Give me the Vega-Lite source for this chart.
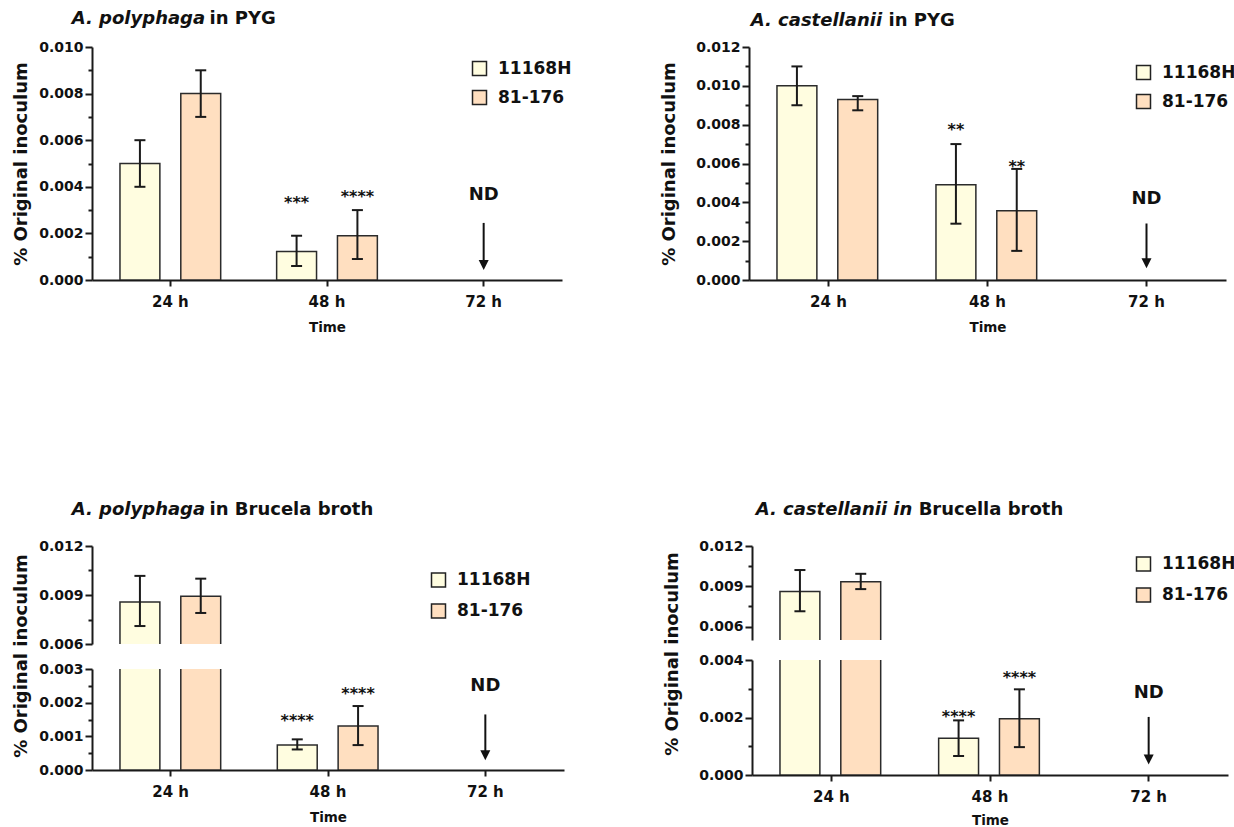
{
  "$schema": "https://vega.github.io/schema/vega-lite/v6.json",
  "background": "white",
  "padding": {"left": 12, "top": 9, "right": 0, "bottom": 0},
  "datasets": {
    "bars": [
      {"panel": "p1", "time": "24 h", "strain": "11168H", "value": 0.005, "lo": 0.004, "hi": 0.006},
      {"panel": "p1", "time": "24 h", "strain": "81-176", "value": 0.008, "lo": 0.007, "hi": 0.009},
      {"panel": "p1", "time": "48 h", "strain": "11168H", "value": 0.00122, "lo": 0.0006, "hi": 0.0019},
      {"panel": "p1", "time": "48 h", "strain": "81-176", "value": 0.0019, "lo": 0.0009, "hi": 0.003},
      {"panel": "p2", "time": "24 h", "strain": "11168H", "value": 0.01, "lo": 0.009, "hi": 0.011},
      {"panel": "p2", "time": "24 h", "strain": "81-176", "value": 0.0093, "lo": 0.00874, "hi": 0.00947},
      {"panel": "p2", "time": "48 h", "strain": "11168H", "value": 0.0049, "lo": 0.0029, "hi": 0.007},
      {"panel": "p2", "time": "48 h", "strain": "81-176", "value": 0.00357, "lo": 0.0015, "hi": 0.00572},
      {"panel": "p3", "time": "24 h", "strain": "11168H", "value": 0.00857, "lo": 0.0071, "hi": 0.01017},
      {"panel": "p3", "time": "24 h", "strain": "81-176", "value": 0.00892, "lo": 0.0079, "hi": 0.01},
      {"panel": "p3", "time": "48 h", "strain": "11168H", "value": 0.00074, "lo": 0.00061, "hi": 0.00091},
      {"panel": "p3", "time": "48 h", "strain": "81-176", "value": 0.00131, "lo": 0.00074, "hi": 0.0019},
      {"panel": "p4", "time": "24 h", "strain": "11168H", "value": 0.00862, "lo": 0.00714, "hi": 0.01021},
      {"panel": "p4", "time": "24 h", "strain": "81-176", "value": 0.00934, "lo": 0.00879, "hi": 0.00993},
      {"panel": "p4", "time": "48 h", "strain": "11168H", "value": 0.00128, "lo": 0.00066, "hi": 0.0019},
      {"panel": "p4", "time": "48 h", "strain": "81-176", "value": 0.00196, "lo": 0.00097, "hi": 0.00298}
    ],
    "stars": [
      {"panel": "p1", "time": "48 h", "strain": "11168H", "y": 0.0031, "label": "***"},
      {"panel": "p1", "time": "48 h", "strain": "81-176", "y": 0.00336, "label": "****"},
      {"panel": "p2", "time": "48 h", "strain": "11168H", "y": 0.00745, "label": "**"},
      {"panel": "p2", "time": "48 h", "strain": "81-176", "y": 0.00556, "label": "**"},
      {"panel": "p3", "time": "48 h", "strain": "11168H", "y": 0.00131, "label": "****"},
      {"panel": "p3", "time": "48 h", "strain": "81-176", "y": 0.00211, "label": "****"},
      {"panel": "p4", "time": "48 h", "strain": "11168H", "y": 0.00183, "label": "****"},
      {"panel": "p4", "time": "48 h", "strain": "81-176", "y": 0.00319, "label": "****"}
    ],
    "nd": [
      {"panel": "p1", "time": "72 h", "label": "ND", "ty": 0.00345, "top": 0.00245, "head": 0.00064},
      {"panel": "p2", "time": "72 h", "label": "ND", "ty": 0.00392, "top": 0.00291, "head": 0.00086},
      {"panel": "p3", "time": "72 h", "label": "ND", "ty": 0.00235, "top": 0.00165, "head": 0.00044},
      {"panel": "p4", "time": "72 h", "label": "ND", "ty": 0.00269, "top": 0.00202, "head": 0.00054}
    ]
  },
  "config": {
    "font": "DejaVu Sans",
    "view": {"stroke": null},
    "axis": {"domainColor": "#1a1a1a", "domainWidth": 2, "tickColor": "#1a1a1a", "tickWidth": 2, "labelColor": "#111111", "titleColor": "#111111", "labelFont": "DejaVu Sans", "titleFont": "DejaVu Sans", "labelFontWeight": "bold", "titleFontWeight": "bold", "grid": false},
    "axisY": {"labelFontSize": 14, "titleFontSize": 18, "labelPadding": 2, "tickSize": 7, "labelOverlap": false, "tickCount": 50},
    "axisX": {"labelFontSize": 15, "titleFontSize": 13.5, "labelAngle": 0, "tickSize": 6, "labelPadding": 8, "titlePadding": 11},
    "legend": {"orient": "none", "symbolType": "square", "symbolSize": 196, "symbolStrokeColor": "#222222", "symbolStrokeWidth": 1.5, "labelFont": "DejaVu Sans", "labelFontSize": 17, "labelFontWeight": "bold", "labelColor": "#111111", "rowPadding": 8, "labelOffset": 10, "padding": 0},
    "title": {"font": "DejaVu Sans", "fontSize": 18, "fontWeight": "bold", "fontStyle": "italic", "color": "#111111", "subtitleFont": "DejaVu Sans", "subtitleFontSize": 18, "subtitleFontWeight": "bold", "subtitleFontStyle": "normal", "subtitleColor": "#111111", "anchor": "start", "frame": "bounds", "lineHeight": 18, "subtitleLineHeight": 18, "subtitlePadding": -18}
  },
  "resolve": {"scale": {"x": "independent", "y": "independent", "color": "independent"}, "legend": {"color": "independent"}},
  "spacing": 166,
  "vconcat": [
    {
      "spacing": 88,
      "align": "none",
      "resolve": {"scale": {"x": "independent", "y": "independent", "color": "independent"}, "legend": {"color": "independent"}},
      "hconcat": [
        {
          "title": {"text": "A. polyphaga", "subtitle": "\u200b\u00a0\u00a0\u00a0\u00a0\u00a0\u00a0\u00a0\u00a0\u00a0\u00a0\u00a0\u00a0\u00a0\u00a0\u00a0\u00a0\u00a0\u00a0\u00a0\u00a0\u00a0\u00a0in PYG", "dx": 59, "offset": 12.5},
          "width": 470, "height": 233,
          "layer": [
            {"data": {"name": "bars"}, "transform": [{"filter": "datum.panel == 'p1'"}],
             "mark": {"type": "bar", "stroke": "#2b2b2b", "strokeWidth": 1.5, "clip": true},
             "encoding": {
               "x": {"field": "time", "type": "nominal", "title": "Time", "scale": {"domain": ["24 h", "48 h", "72 h"], "paddingInner": 0, "paddingOuter": 0}},
               "xOffset": {"field": "strain", "type": "nominal", "scale": {"domain": ["11168H", "81-176"], "paddingInner": 0.344, "paddingOuter": 0.46}},
               "y": {"field": "value", "type": "quantitative", "title": "% Original inoculum", "scale": {"domain": [0, 0.01], "nice": false, "zero": false},
                     "axis": {"titlePadding": 8, "labelOverlap": false, "tickCount": 50, "values": [0, 0.001, 0.002, 0.003, 0.004, 0.005, 0.006, 0.007, 0.008, 0.009, 0.01], "labelExpr": "round(datum.value*1000) % 2 == 0 ? format(datum.value, '.3f') : ''", "labelFontSize": {"condition": {"test": "round(datum.value*1000) % 2 == 0", "value": 14}, "value": 0}, "tickSize": {"condition": {"test": "round(datum.value*1000) % 2 == 0", "value": 7}, "value": 4}}},
               "color": {"field": "strain", "type": "nominal", "scale": {"domain": ["11168H", "81-176"], "range": ["#FFFDE0", "#FFDFC0"]}, "legend": {"title": null, "legendX": 379, "legendY": 13}}
             }},
            {"data": {"name": "bars"}, "transform": [{"filter": "datum.panel == 'p1'"}],
             "mark": {"type": "rule", "strokeWidth": 2, "color": "#1a1a1a", "clip": true},
             "encoding": {"x": {"field": "time", "type": "nominal", "title": "Time"}, "xOffset": {"field": "strain", "type": "nominal"}, "y": {"field": "lo", "type": "quantitative", "title": "% Original inoculum", "axis": {"labelOverlap": false, "tickCount": 50}}, "y2": {"field": "hi"}}},
            {"data": {"name": "bars"}, "transform": [{"filter": "datum.panel == 'p1'"}],
             "mark": {"type": "tick", "size": 11, "thickness": 2, "color": "#1a1a1a", "opacity": 1, "clip": true},
             "encoding": {"x": {"field": "time", "type": "nominal", "title": "Time"}, "xOffset": {"field": "strain", "type": "nominal"}, "y": {"field": "lo", "type": "quantitative", "title": "% Original inoculum", "axis": {"labelOverlap": false, "tickCount": 50}}}},
            {"data": {"name": "bars"}, "transform": [{"filter": "datum.panel == 'p1'"}],
             "mark": {"type": "tick", "size": 11, "thickness": 2, "color": "#1a1a1a", "opacity": 1, "clip": true},
             "encoding": {"x": {"field": "time", "type": "nominal", "title": "Time"}, "xOffset": {"field": "strain", "type": "nominal"}, "y": {"field": "hi", "type": "quantitative", "title": "% Original inoculum", "axis": {"labelOverlap": false, "tickCount": 50}}}},
            {"data": {"name": "stars"}, "transform": [{"filter": "datum.panel == 'p1'"}],
             "mark": {"type": "text", "fontSize": 16, "fontWeight": "bold", "baseline": "alphabetic", "color": "#111111"},
             "encoding": {"x": {"field": "time", "type": "nominal", "title": "Time"}, "xOffset": {"field": "strain", "type": "nominal"}, "y": {"field": "y", "type": "quantitative", "title": "% Original inoculum", "axis": {"labelOverlap": false, "tickCount": 50}}, "text": {"field": "label"}}},
            {"data": {"name": "nd"}, "transform": [{"filter": "datum.panel == 'p1'"}],
             "mark": {"type": "text", "fontSize": 18, "fontWeight": "bold", "baseline": "alphabetic", "color": "#111111"},
             "encoding": {"x": {"field": "time", "type": "nominal", "title": "Time"}, "y": {"field": "ty", "type": "quantitative", "title": "% Original inoculum", "axis": {"labelOverlap": false, "tickCount": 50}}, "text": {"field": "label"}}},
            {"data": {"name": "nd"}, "transform": [{"filter": "datum.panel == 'p1'"}],
             "mark": {"type": "rule", "strokeWidth": 2, "color": "#111111"},
             "encoding": {"x": {"field": "time", "type": "nominal", "title": "Time"}, "y": {"field": "top", "type": "quantitative", "title": "% Original inoculum", "axis": {"labelOverlap": false, "tickCount": 50}}, "y2": {"field": "head"}}},
            {"data": {"name": "nd"}, "transform": [{"filter": "datum.panel == 'p1'"}],
             "mark": {"type": "point", "shape": "M-1,-1L1,-1L0,1Z", "size": 100, "filled": true, "opacity": 1, "color": "#111111"},
             "encoding": {"x": {"field": "time", "type": "nominal", "title": "Time"}, "y": {"field": "head", "type": "quantitative", "title": "% Original inoculum", "axis": {"labelOverlap": false, "tickCount": 50}}}}
          ]
        },
        {
          "title": {"text": "A. castellanii", "subtitle": "\u200b\u00a0\u00a0\u00a0\u00a0\u00a0\u00a0\u00a0\u00a0\u00a0\u00a0\u00a0\u00a0\u00a0\u00a0\u00a0\u00a0\u00a0\u00a0\u00a0\u00a0\u00a0\u00a0in PYG", "dx": 90, "offset": 10},
          "width": 477, "height": 233,
          "layer": [
            {"data": {"name": "bars"}, "transform": [{"filter": "datum.panel == 'p2'"}],
             "mark": {"type": "bar", "stroke": "#2b2b2b", "strokeWidth": 1.5, "clip": true},
             "encoding": {
               "x": {"field": "time", "type": "nominal", "title": "Time", "scale": {"domain": ["24 h", "48 h", "72 h"], "paddingInner": 0, "paddingOuter": 0}},
               "xOffset": {"field": "strain", "type": "nominal", "scale": {"domain": ["11168H", "81-176"], "paddingInner": 0.344, "paddingOuter": 0.46}},
               "y": {"field": "value", "type": "quantitative", "title": "% Original inoculum", "scale": {"domain": [0, 0.012], "nice": false, "zero": false},
                     "axis": {"titlePadding": 17, "labelOverlap": false, "tickCount": 50, "values": [0, 0.001, 0.002, 0.003, 0.004, 0.005, 0.006, 0.007, 0.008, 0.009, 0.01, 0.011, 0.012], "labelExpr": "round(datum.value*1000) % 2 == 0 ? format(datum.value, '.3f') : ''", "labelFontSize": {"condition": {"test": "round(datum.value*1000) % 2 == 0", "value": 14}, "value": 0}, "tickSize": {"condition": {"test": "round(datum.value*1000) % 2 == 0", "value": 7}, "value": 4}}},
               "color": {"field": "strain", "type": "nominal", "scale": {"domain": ["11168H", "81-176"], "range": ["#FFFDE0", "#FFDFC0"]}, "legend": {"title": null, "legendX": 386, "legendY": 17}}
             }},
            {"data": {"name": "bars"}, "transform": [{"filter": "datum.panel == 'p2'"}],
             "mark": {"type": "rule", "strokeWidth": 2, "color": "#1a1a1a", "clip": true},
             "encoding": {"x": {"field": "time", "type": "nominal", "title": "Time"}, "xOffset": {"field": "strain", "type": "nominal"}, "y": {"field": "lo", "type": "quantitative", "title": "% Original inoculum", "axis": {"labelOverlap": false, "tickCount": 50}}, "y2": {"field": "hi"}}},
            {"data": {"name": "bars"}, "transform": [{"filter": "datum.panel == 'p2'"}],
             "mark": {"type": "tick", "size": 11, "thickness": 2, "color": "#1a1a1a", "opacity": 1, "clip": true},
             "encoding": {"x": {"field": "time", "type": "nominal", "title": "Time"}, "xOffset": {"field": "strain", "type": "nominal"}, "y": {"field": "lo", "type": "quantitative", "title": "% Original inoculum", "axis": {"labelOverlap": false, "tickCount": 50}}}},
            {"data": {"name": "bars"}, "transform": [{"filter": "datum.panel == 'p2'"}],
             "mark": {"type": "tick", "size": 11, "thickness": 2, "color": "#1a1a1a", "opacity": 1, "clip": true},
             "encoding": {"x": {"field": "time", "type": "nominal", "title": "Time"}, "xOffset": {"field": "strain", "type": "nominal"}, "y": {"field": "hi", "type": "quantitative", "title": "% Original inoculum", "axis": {"labelOverlap": false, "tickCount": 50}}}},
            {"data": {"name": "stars"}, "transform": [{"filter": "datum.panel == 'p2'"}],
             "mark": {"type": "text", "fontSize": 16, "fontWeight": "bold", "baseline": "alphabetic", "color": "#111111"},
             "encoding": {"x": {"field": "time", "type": "nominal", "title": "Time"}, "xOffset": {"field": "strain", "type": "nominal"}, "y": {"field": "y", "type": "quantitative", "title": "% Original inoculum", "axis": {"labelOverlap": false, "tickCount": 50}}, "text": {"field": "label"}}},
            {"data": {"name": "nd"}, "transform": [{"filter": "datum.panel == 'p2'"}],
             "mark": {"type": "text", "fontSize": 18, "fontWeight": "bold", "baseline": "alphabetic", "color": "#111111"},
             "encoding": {"x": {"field": "time", "type": "nominal", "title": "Time"}, "y": {"field": "ty", "type": "quantitative", "title": "% Original inoculum", "axis": {"labelOverlap": false, "tickCount": 50}}, "text": {"field": "label"}}},
            {"data": {"name": "nd"}, "transform": [{"filter": "datum.panel == 'p2'"}],
             "mark": {"type": "rule", "strokeWidth": 2, "color": "#111111"},
             "encoding": {"x": {"field": "time", "type": "nominal", "title": "Time"}, "y": {"field": "top", "type": "quantitative", "title": "% Original inoculum", "axis": {"labelOverlap": false, "tickCount": 50}}, "y2": {"field": "head"}}},
            {"data": {"name": "nd"}, "transform": [{"filter": "datum.panel == 'p2'"}],
             "mark": {"type": "point", "shape": "M-1,-1L1,-1L0,1Z", "size": 100, "filled": true, "opacity": 1, "color": "#111111"},
             "encoding": {"x": {"field": "time", "type": "nominal", "title": "Time"}, "y": {"field": "head", "type": "quantitative", "title": "% Original inoculum", "axis": {"labelOverlap": false, "tickCount": 50}}}}
          ]
        }
      ]
    },
    {
      "spacing": 99,
      "align": "none",
      "resolve": {"scale": {"x": "independent", "y": "independent", "color": "independent"}, "legend": {"color": "independent"}},
      "hconcat": [
        {
          "title": {"text": "A. polyphaga", "subtitle": "\u200b\u00a0\u00a0\u00a0\u00a0\u00a0\u00a0\u00a0\u00a0\u00a0\u00a0\u00a0\u00a0\u00a0\u00a0\u00a0\u00a0\u00a0\u00a0\u00a0\u00a0\u00a0\u00a0in Brucela broth", "dx": 59, "offset": 20.5},
          "spacing": 25,
          "bounds": "flush",
          "resolve": {"scale": {"x": "independent", "y": "independent", "color": "independent"}, "legend": {"color": "independent"}},
          "vconcat": [
            {
              "width": 472, "height": 98,
              "layer": [
                {"data": {"name": "bars"}, "transform": [{"filter": "datum.panel == 'p3'"}],
                 "mark": {"type": "bar", "stroke": "#2b2b2b", "strokeWidth": 1.5, "clip": true},
                 "encoding": {
                   "x": {"field": "time", "type": "nominal", "scale": {"domain": ["24 h", "48 h", "72 h"], "paddingInner": 0, "paddingOuter": 0}, "axis": null},
                   "xOffset": {"field": "strain", "type": "nominal", "scale": {"domain": ["11168H", "81-176"], "paddingInner": 0.344, "paddingOuter": 0.46}},
                   "y": {"field": "value", "type": "quantitative", "title": null, "scale": {"domain": [0.006, 0.012], "nice": false, "zero": false},
                         "axis": {"labelOverlap": false, "tickCount": 50, "values": [0.006, 0.0075, 0.009, 0.0105, 0.012], "labelExpr": "round(datum.value*10000) % 30 == 0 ? format(datum.value, '.3f') : ''", "labelFontSize": {"condition": {"test": "round(datum.value*10000) % 30 == 0", "value": 14}, "value": 0}, "tickSize": {"condition": {"test": "round(datum.value*10000) % 30 == 0", "value": 7}, "value": 4}}},
                   "color": {"field": "strain", "type": "nominal", "scale": {"domain": ["11168H", "81-176"], "range": ["#FFFDE0", "#FFDFC0"]}, "legend": {"title": null, "legendX": 338, "legendY": 25.5, "rowPadding": 10}}
                 }},
                {"data": {"name": "bars"}, "transform": [{"filter": "datum.panel == 'p3'"}],
                 "mark": {"type": "rule", "strokeWidth": 2, "color": "#1a1a1a", "clip": true},
                 "encoding": {"x": {"field": "time", "type": "nominal", "axis": null}, "xOffset": {"field": "strain", "type": "nominal"}, "y": {"field": "lo", "type": "quantitative", "title": null, "axis": {"labelOverlap": false, "tickCount": 50}}, "y2": {"field": "hi"}}},
                {"data": {"name": "bars"}, "transform": [{"filter": "datum.panel == 'p3'"}],
                 "mark": {"type": "tick", "size": 11, "thickness": 2, "color": "#1a1a1a", "opacity": 1, "clip": true},
                 "encoding": {"x": {"field": "time", "type": "nominal", "axis": null}, "xOffset": {"field": "strain", "type": "nominal"}, "y": {"field": "lo", "type": "quantitative", "title": null, "axis": {"labelOverlap": false, "tickCount": 50}}}},
                {"data": {"name": "bars"}, "transform": [{"filter": "datum.panel == 'p3'"}],
                 "mark": {"type": "tick", "size": 11, "thickness": 2, "color": "#1a1a1a", "opacity": 1, "clip": true},
                 "encoding": {"x": {"field": "time", "type": "nominal", "axis": null}, "xOffset": {"field": "strain", "type": "nominal"}, "y": {"field": "hi", "type": "quantitative", "title": null, "axis": {"labelOverlap": false, "tickCount": 50}}}}
              ]
            },
            {
              "width": 472, "height": 101,
              "layer": [
                {"data": {"name": "bars"}, "transform": [{"filter": "datum.panel == 'p3'"}],
                 "mark": {"type": "bar", "stroke": "#2b2b2b", "strokeWidth": 1.5, "clip": true},
                 "encoding": {
                   "x": {"field": "time", "type": "nominal", "title": "Time", "scale": {"domain": ["24 h", "48 h", "72 h"], "paddingInner": 0, "paddingOuter": 0}},
                   "xOffset": {"field": "strain", "type": "nominal", "scale": {"domain": ["11168H", "81-176"], "paddingInner": 0.344, "paddingOuter": 0.46}},
                   "y": {"field": "value", "type": "quantitative", "title": "% Original inoculum", "scale": {"domain": [0, 0.003], "nice": false, "zero": false},
                         "axis": {"titlePadding": 8, "titleY": -13.5, "labelOverlap": false, "tickCount": 50, "values": [0, 0.0005, 0.001, 0.0015, 0.002, 0.0025, 0.003], "labelExpr": "round(datum.value*10000) % 10 == 0 ? format(datum.value, '.3f') : ''", "labelFontSize": {"condition": {"test": "round(datum.value*10000) % 10 == 0", "value": 14}, "value": 0}, "tickSize": {"condition": {"test": "round(datum.value*10000) % 10 == 0", "value": 7}, "value": 4}}},
                   "color": {"field": "strain", "type": "nominal", "scale": {"domain": ["11168H", "81-176"], "range": ["#FFFDE0", "#FFDFC0"]}, "legend": null}
                 }},
                {"data": {"name": "bars"}, "transform": [{"filter": "datum.panel == 'p3'"}],
                 "mark": {"type": "rule", "strokeWidth": 2, "color": "#1a1a1a", "clip": true},
                 "encoding": {"x": {"field": "time", "type": "nominal", "title": "Time"}, "xOffset": {"field": "strain", "type": "nominal"}, "y": {"field": "lo", "type": "quantitative", "title": "% Original inoculum", "axis": {"labelOverlap": false, "tickCount": 50}}, "y2": {"field": "hi"}}},
                {"data": {"name": "bars"}, "transform": [{"filter": "datum.panel == 'p3'"}],
                 "mark": {"type": "tick", "size": 11, "thickness": 2, "color": "#1a1a1a", "opacity": 1, "clip": true},
                 "encoding": {"x": {"field": "time", "type": "nominal", "title": "Time"}, "xOffset": {"field": "strain", "type": "nominal"}, "y": {"field": "lo", "type": "quantitative", "title": "% Original inoculum", "axis": {"labelOverlap": false, "tickCount": 50}}}},
                {"data": {"name": "bars"}, "transform": [{"filter": "datum.panel == 'p3'"}],
                 "mark": {"type": "tick", "size": 11, "thickness": 2, "color": "#1a1a1a", "opacity": 1, "clip": true},
                 "encoding": {"x": {"field": "time", "type": "nominal", "title": "Time"}, "xOffset": {"field": "strain", "type": "nominal"}, "y": {"field": "hi", "type": "quantitative", "title": "% Original inoculum", "axis": {"labelOverlap": false, "tickCount": 50}}}},
                {"data": {"name": "stars"}, "transform": [{"filter": "datum.panel == 'p3'"}],
                 "mark": {"type": "text", "fontSize": 16, "fontWeight": "bold", "baseline": "alphabetic", "color": "#111111"},
                 "encoding": {"x": {"field": "time", "type": "nominal", "title": "Time"}, "xOffset": {"field": "strain", "type": "nominal"}, "y": {"field": "y", "type": "quantitative", "title": "% Original inoculum", "axis": {"labelOverlap": false, "tickCount": 50}}, "text": {"field": "label"}}},
                {"data": {"name": "nd"}, "transform": [{"filter": "datum.panel == 'p3'"}],
                 "mark": {"type": "text", "fontSize": 18, "fontWeight": "bold", "baseline": "alphabetic", "color": "#111111"},
                 "encoding": {"x": {"field": "time", "type": "nominal", "title": "Time"}, "y": {"field": "ty", "type": "quantitative", "title": "% Original inoculum", "axis": {"labelOverlap": false, "tickCount": 50}}, "text": {"field": "label"}}},
                {"data": {"name": "nd"}, "transform": [{"filter": "datum.panel == 'p3'"}],
                 "mark": {"type": "rule", "strokeWidth": 2, "color": "#111111"},
                 "encoding": {"x": {"field": "time", "type": "nominal", "title": "Time"}, "y": {"field": "top", "type": "quantitative", "title": "% Original inoculum", "axis": {"labelOverlap": false, "tickCount": 50}}, "y2": {"field": "head"}}},
                {"data": {"name": "nd"}, "transform": [{"filter": "datum.panel == 'p3'"}],
                 "mark": {"type": "point", "shape": "M-1,-1L1,-1L0,1Z", "size": 100, "filled": true, "opacity": 1, "color": "#111111"},
                 "encoding": {"x": {"field": "time", "type": "nominal", "title": "Time"}, "y": {"field": "head", "type": "quantitative", "title": "% Original inoculum", "axis": {"labelOverlap": false, "tickCount": 50}}}}
              ]
            }
          ]
        },
        {
          "title": {"text": "A. castellanii in", "subtitle": "\u200b\u00a0\u00a0\u00a0\u00a0\u00a0\u00a0\u00a0\u00a0\u00a0\u00a0\u00a0\u00a0\u00a0\u00a0\u00a0\u00a0\u00a0\u00a0\u00a0\u00a0\u00a0\u00a0\u00a0\u00a0\u00a0\u00a0Brucella broth", "dx": 92, "offset": 20.5},
          "spacing": 20,
          "bounds": "flush",
          "resolve": {"scale": {"x": "independent", "y": "independent", "color": "independent"}, "legend": {"color": "independent"}},
          "vconcat": [
            {
              "width": 476, "height": 94,
              "layer": [
                {"data": {"name": "bars"}, "transform": [{"filter": "datum.panel == 'p4'"}],
                 "mark": {"type": "bar", "stroke": "#2b2b2b", "strokeWidth": 1.5, "clip": true},
                 "encoding": {
                   "x": {"field": "time", "type": "nominal", "scale": {"domain": ["24 h", "48 h", "72 h"], "paddingInner": 0, "paddingOuter": 0}, "axis": null},
                   "xOffset": {"field": "strain", "type": "nominal", "scale": {"domain": ["11168H", "81-176"], "paddingInner": 0.344, "paddingOuter": 0.46}},
                   "y": {"field": "value", "type": "quantitative", "title": null, "scale": {"domain": [0.005, 0.012], "nice": false, "zero": false},
                         "axis": {"labelOverlap": false, "tickCount": 50, "values": [0.006, 0.0075, 0.009, 0.0105, 0.012], "labelExpr": "round(datum.value*10000) % 30 == 0 ? format(datum.value, '.3f') : ''", "labelFontSize": {"condition": {"test": "round(datum.value*10000) % 30 == 0", "value": 14}, "value": 0}, "tickSize": {"condition": {"test": "round(datum.value*10000) % 30 == 0", "value": 7}, "value": 4}}},
                   "color": {"field": "strain", "type": "nominal", "scale": {"domain": ["11168H", "81-176"], "range": ["#FFFDE0", "#FFDFC0"]}, "legend": {"title": null, "legendX": 383, "legendY": 9.5, "rowPadding": 10}}
                 }},
                {"data": {"name": "bars"}, "transform": [{"filter": "datum.panel == 'p4'"}],
                 "mark": {"type": "rule", "strokeWidth": 2, "color": "#1a1a1a", "clip": true},
                 "encoding": {"x": {"field": "time", "type": "nominal", "axis": null}, "xOffset": {"field": "strain", "type": "nominal"}, "y": {"field": "lo", "type": "quantitative", "title": null, "axis": {"labelOverlap": false, "tickCount": 50}}, "y2": {"field": "hi"}}},
                {"data": {"name": "bars"}, "transform": [{"filter": "datum.panel == 'p4'"}],
                 "mark": {"type": "tick", "size": 11, "thickness": 2, "color": "#1a1a1a", "opacity": 1, "clip": true},
                 "encoding": {"x": {"field": "time", "type": "nominal", "axis": null}, "xOffset": {"field": "strain", "type": "nominal"}, "y": {"field": "lo", "type": "quantitative", "title": null, "axis": {"labelOverlap": false, "tickCount": 50}}}},
                {"data": {"name": "bars"}, "transform": [{"filter": "datum.panel == 'p4'"}],
                 "mark": {"type": "tick", "size": 11, "thickness": 2, "color": "#1a1a1a", "opacity": 1, "clip": true},
                 "encoding": {"x": {"field": "time", "type": "nominal", "axis": null}, "xOffset": {"field": "strain", "type": "nominal"}, "y": {"field": "hi", "type": "quantitative", "title": null, "axis": {"labelOverlap": false, "tickCount": 50}}}}
              ]
            },
            {
              "width": 476, "height": 115,
              "layer": [
                {"data": {"name": "bars"}, "transform": [{"filter": "datum.panel == 'p4'"}],
                 "mark": {"type": "bar", "stroke": "#2b2b2b", "strokeWidth": 1.5, "clip": true},
                 "encoding": {
                   "x": {"field": "time", "type": "nominal", "title": "Time", "scale": {"domain": ["24 h", "48 h", "72 h"], "paddingInner": 0, "paddingOuter": 0}, "axis": {"titlePadding": 9}},
                   "xOffset": {"field": "strain", "type": "nominal", "scale": {"domain": ["11168H", "81-176"], "paddingInner": 0.344, "paddingOuter": 0.46}},
                   "y": {"field": "value", "type": "quantitative", "title": "% Original inoculum", "scale": {"domain": [0, 0.004], "nice": false, "zero": false},
                         "axis": {"titlePadding": 17, "titleY": -6.5, "labelOverlap": false, "tickCount": 50, "values": [0, 0.001, 0.002, 0.003, 0.004], "labelExpr": "round(datum.value*1000) % 2 == 0 ? format(datum.value, '.3f') : ''", "labelFontSize": {"condition": {"test": "round(datum.value*1000) % 2 == 0", "value": 14}, "value": 0}, "tickSize": {"condition": {"test": "round(datum.value*1000) % 2 == 0", "value": 7}, "value": 4}}},
                   "color": {"field": "strain", "type": "nominal", "scale": {"domain": ["11168H", "81-176"], "range": ["#FFFDE0", "#FFDFC0"]}, "legend": null}
                 }},
                {"data": {"name": "bars"}, "transform": [{"filter": "datum.panel == 'p4'"}],
                 "mark": {"type": "rule", "strokeWidth": 2, "color": "#1a1a1a", "clip": true},
                 "encoding": {"x": {"field": "time", "type": "nominal", "title": "Time"}, "xOffset": {"field": "strain", "type": "nominal"}, "y": {"field": "lo", "type": "quantitative", "title": "% Original inoculum", "axis": {"labelOverlap": false, "tickCount": 50}}, "y2": {"field": "hi"}}},
                {"data": {"name": "bars"}, "transform": [{"filter": "datum.panel == 'p4'"}],
                 "mark": {"type": "tick", "size": 11, "thickness": 2, "color": "#1a1a1a", "opacity": 1, "clip": true},
                 "encoding": {"x": {"field": "time", "type": "nominal", "title": "Time"}, "xOffset": {"field": "strain", "type": "nominal"}, "y": {"field": "lo", "type": "quantitative", "title": "% Original inoculum", "axis": {"labelOverlap": false, "tickCount": 50}}}},
                {"data": {"name": "bars"}, "transform": [{"filter": "datum.panel == 'p4'"}],
                 "mark": {"type": "tick", "size": 11, "thickness": 2, "color": "#1a1a1a", "opacity": 1, "clip": true},
                 "encoding": {"x": {"field": "time", "type": "nominal", "title": "Time"}, "xOffset": {"field": "strain", "type": "nominal"}, "y": {"field": "hi", "type": "quantitative", "title": "% Original inoculum", "axis": {"labelOverlap": false, "tickCount": 50}}}},
                {"data": {"name": "stars"}, "transform": [{"filter": "datum.panel == 'p4'"}],
                 "mark": {"type": "text", "fontSize": 16, "fontWeight": "bold", "baseline": "alphabetic", "color": "#111111"},
                 "encoding": {"x": {"field": "time", "type": "nominal", "title": "Time"}, "xOffset": {"field": "strain", "type": "nominal"}, "y": {"field": "y", "type": "quantitative", "title": "% Original inoculum", "axis": {"labelOverlap": false, "tickCount": 50}}, "text": {"field": "label"}}},
                {"data": {"name": "nd"}, "transform": [{"filter": "datum.panel == 'p4'"}],
                 "mark": {"type": "text", "fontSize": 18, "fontWeight": "bold", "baseline": "alphabetic", "color": "#111111"},
                 "encoding": {"x": {"field": "time", "type": "nominal", "title": "Time"}, "y": {"field": "ty", "type": "quantitative", "title": "% Original inoculum", "axis": {"labelOverlap": false, "tickCount": 50}}, "text": {"field": "label"}}},
                {"data": {"name": "nd"}, "transform": [{"filter": "datum.panel == 'p4'"}],
                 "mark": {"type": "rule", "strokeWidth": 2, "color": "#111111"},
                 "encoding": {"x": {"field": "time", "type": "nominal", "title": "Time"}, "y": {"field": "top", "type": "quantitative", "title": "% Original inoculum", "axis": {"labelOverlap": false, "tickCount": 50}}, "y2": {"field": "head"}}},
                {"data": {"name": "nd"}, "transform": [{"filter": "datum.panel == 'p4'"}],
                 "mark": {"type": "point", "shape": "M-1,-1L1,-1L0,1Z", "size": 100, "filled": true, "opacity": 1, "color": "#111111"},
                 "encoding": {"x": {"field": "time", "type": "nominal", "title": "Time"}, "y": {"field": "head", "type": "quantitative", "title": "% Original inoculum", "axis": {"labelOverlap": false, "tickCount": 50}}}}
              ]
            }
          ]
        }
      ]
    }
  ]
}
